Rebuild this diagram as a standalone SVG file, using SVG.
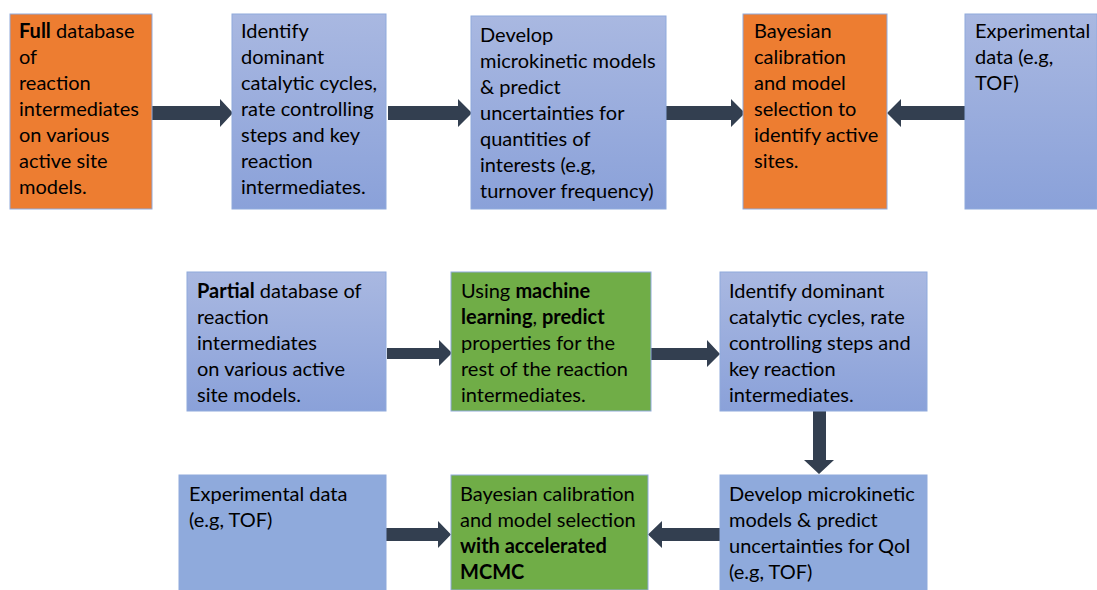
<svg xmlns="http://www.w3.org/2000/svg" width="1097" height="590" viewBox="0 0 1097 590">
<defs>
<linearGradient id="bg" x1="0" y1="0" x2="0" y2="1">
<stop offset="0" stop-color="#A9B8E1"/>
<stop offset="1" stop-color="#8AA1D9"/>
</linearGradient>
<style>
.box{stroke:#8FAADC;stroke-width:1}
.or{fill:#ED7D31}
.bl{fill:url(#bg)}
.bs{fill:#8FAADC}
.gr{fill:#70AD47}
text{font-family:Lato,"Open Sans","Liberation Sans",sans-serif;font-size:20px;fill:#000}
.b{font-weight:bold}
.arr{fill:#333F50}
</style>
</defs>
<rect width="1097" height="590" fill="#fff"/>
<g id="connectors">
<polygon class="arr" points="152,106 220,106 220,99 233,113 220,127 220,120 152,120"/>
<polygon class="arr" points="388,106 458,106 458,99 472,113 458,127 458,120 388,120"/>
<polygon class="arr" points="666,106 731,106 731,99 745,113 731,127 731,120 666,120"/>
<polygon class="arr" points="965,106 901,106 901,99 887,113 901,127 901,120 965,120"/>
<polygon class="arr" points="387,348 439,348 439,340 452,353 439,366 439,359 387,359"/>
<polygon class="arr" points="651,348 707,348 707,340 720,354 707,367 707,360 651,360"/>
<polygon class="arr" points="813,411 826,411 826,460 834,460 819,474 804,460 813,460"/>
<polygon class="arr" points="386,528 438,528 438,521 451,534.5 438,548 438,541 386,541"/>
<polygon class="arr" points="720,528 662,528 662,521 648,534.5 662,548 662,541 720,541"/>
</g>
<g id="n1"><rect class="box or" x="10" y="14" width="142" height="195"/>
<text x="19" y="38"><tspan class="b">Full</tspan> database</text>
<text x="19" y="64">of</text>
<text x="19" y="90">reaction</text>
<text x="19" y="116">intermediates</text>
<text x="19" y="142">on various</text>
<text x="19" y="168">active site</text>
<text x="19" y="194">models.</text></g>
<g id="n2"><rect class="box bl" x="232" y="14" width="154" height="195"/>
<text x="241" y="38">Identify</text>
<text x="241" y="64">dominant</text>
<text x="241" y="90">catalytic cycles,</text>
<text x="241" y="116">rate controlling</text>
<text x="241" y="142">steps and key</text>
<text x="241" y="168">reaction</text>
<text x="241" y="194">intermediates.</text></g>
<g id="n3"><rect class="box bl" x="471" y="16" width="195" height="193"/>
<text x="480" y="42">Develop</text>
<text x="480" y="68">microkinetic models</text>
<text x="480" y="94">&amp; predict</text>
<text x="480" y="120">uncertainties for</text>
<text x="480" y="146">quantities of</text>
<text x="480" y="172">interests (e.g,</text>
<text x="480" y="198">turnover frequency)</text></g>
<g id="n4"><rect class="box or" x="743" y="14" width="144" height="195"/>
<text x="754" y="38">Bayesian</text>
<text x="754" y="64">calibration</text>
<text x="754" y="90">and model</text>
<text x="754" y="116">selection to</text>
<text x="754" y="142">identify active</text>
<text x="754" y="168">sites.</text></g>
<g id="n5"><rect class="box bl" x="965" y="14" width="132" height="195"/>
<text x="975" y="38">Experimental</text>
<text x="975" y="64">data (e.g,</text>
<text x="975" y="90">TOF)</text></g>
<g id="n6"><rect class="box bl" x="187" y="272" width="199" height="139"/>
<text x="197" y="298"><tspan class="b">Partial</tspan> database of</text>
<text x="197" y="324">reaction</text>
<text x="197" y="350">intermediates</text>
<text x="197" y="376">on various active</text>
<text x="197" y="402">site models.</text></g>
<g id="n7"><rect class="box gr" x="451" y="272" width="200" height="139"/>
<text x="461" y="298">Using <tspan class="b">machine</tspan></text>
<text x="461" y="324" class="b">learning<tspan font-weight="normal">,</tspan> predict</text>
<text x="461" y="350">properties for the</text>
<text x="461" y="376">rest of the reaction</text>
<text x="461" y="402">intermediates.</text></g>
<g id="n8"><rect class="box bl" x="720" y="272" width="207" height="139"/>
<text x="729" y="298">Identify dominant</text>
<text x="729" y="324">catalytic cycles, rate</text>
<text x="729" y="350">controlling steps and</text>
<text x="729" y="376">key reaction</text>
<text x="729" y="402">intermediates.</text></g>
<g id="n9"><rect class="box bs" x="179" y="475" width="207" height="115"/>
<text x="189" y="501">Experimental data</text>
<text x="189" y="527">(e.g, TOF)</text></g>
<g id="n10"><rect class="box gr" x="451" y="475" width="197" height="115"/>
<text x="460" y="501">Bayesian calibration</text>
<text x="460" y="527">and model selection</text>
<text x="460" y="553" class="b">with accelerated</text>
<text x="460" y="579" class="b">MCMC</text></g>
<g id="n11"><rect class="box bs" x="720" y="475" width="207" height="115"/>
<text x="729" y="501">Develop microkinetic</text>
<text x="729" y="527">models &amp; predict</text>
<text x="729" y="553">uncertainties for QoI</text>
<text x="729" y="579">(e.g, TOF)</text></g>
</svg>
